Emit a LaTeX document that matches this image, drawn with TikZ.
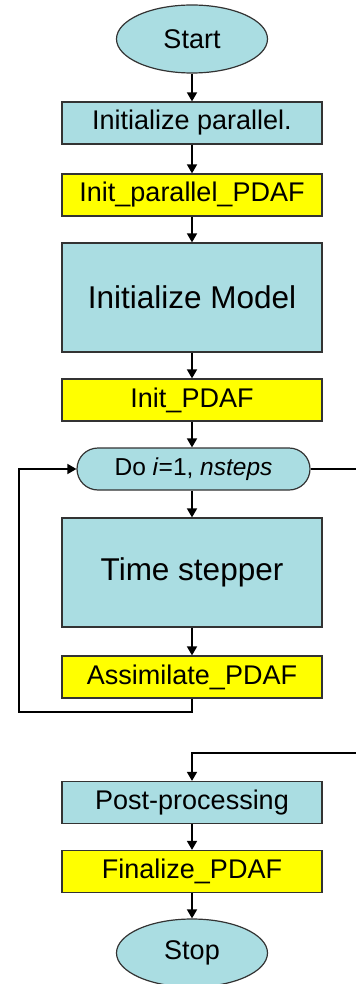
\documentclass[tikz,border=0pt]{standalone}
\usepackage{fontspec}
\setmainfont{Liberation Sans}
\usetikzlibrary{arrows.meta, shapes.geometric, shapes.misc}
\definecolor{boxcyan}{RGB}{170,221,226}
\definecolor{boxyellow}{RGB}{255,255,0}

\begin{document}
\begin{tikzpicture}[x=0.5pt, y=-0.5pt,
    base/.style={draw=black!80, line width=0.6pt, inner sep=0pt, font=\fontsize{13.5}{16}\selectfont},
    task/.style={base, rectangle, fill=boxcyan, minimum width=130pt, minimum height=21pt},
    call/.style={task, fill=boxyellow},
    bigtask/.style={task, minimum height=54.5pt, font=\fontsize{15.75}{19}\selectfont},
    term/.style={base, ellipse, fill=boxcyan, minimum width=75.5pt, minimum height=34pt},
    loophead/.style={base, rounded rectangle, fill=boxcyan, minimum width=116.5pt, minimum height=21pt, font=\fontsize{12.25}{15}\selectfont},
    flow/.style={line width=0.8pt, -{Triangle[width=5pt,length=4.5pt]}}]
    \useasboundingbox (0,0) rectangle (356,984);

    \node[term] (start) at (192,39) {Start};
    \node[task] (initpar) at (192,123) {Initialize parallel.};
    \node[call] (initparpdaf) at (192,195) {Init\_parallel\_PDAF};
    \node[bigtask] (initmodel) at (192,297.5) {Initialize Model};
    \node[call] (initpdaf) at (192,400) {Init\_PDAF};
    \node[loophead] (doloop) at (193.5,469) {Do \textit{i}=1, \textit{nsteps}};
    \node[bigtask] (timestep) at (192,572.5) {Time stepper};
    \node[call] (assim) at (192,677) {Assimilate\_PDAF};
    \node[task] (post) at (192,802.5) {Post-processing};
    \node[call] (finpdaf) at (192,871.5) {Finalize\_PDAF};
    \node[term] (stop) at (192,953) {Stop};

    \coordinate (back) at (19,712);
    \coordinate (out) at (366,753);

    \draw[flow] (start) -- (initpar);
    \draw[flow] (initpar) -- (initparpdaf);
    \draw[flow] (initparpdaf) -- (initmodel);
    \draw[flow] (initmodel) -- (initpdaf);
    \draw[flow] (initpdaf) -- (initpdaf |- doloop.north);
    \draw[flow] (timestep |- doloop.south) -- (timestep);
    \draw[flow] (timestep) -- (assim);
    \draw[flow] (assim.south) |- (back) |- (doloop.west);
    \draw[flow] (doloop.east) -| (out) -| (post.north);
    \draw[flow] (post) -- (finpdaf);
    \draw[flow] (finpdaf) -- (stop);
\end{tikzpicture}
\end{document}
